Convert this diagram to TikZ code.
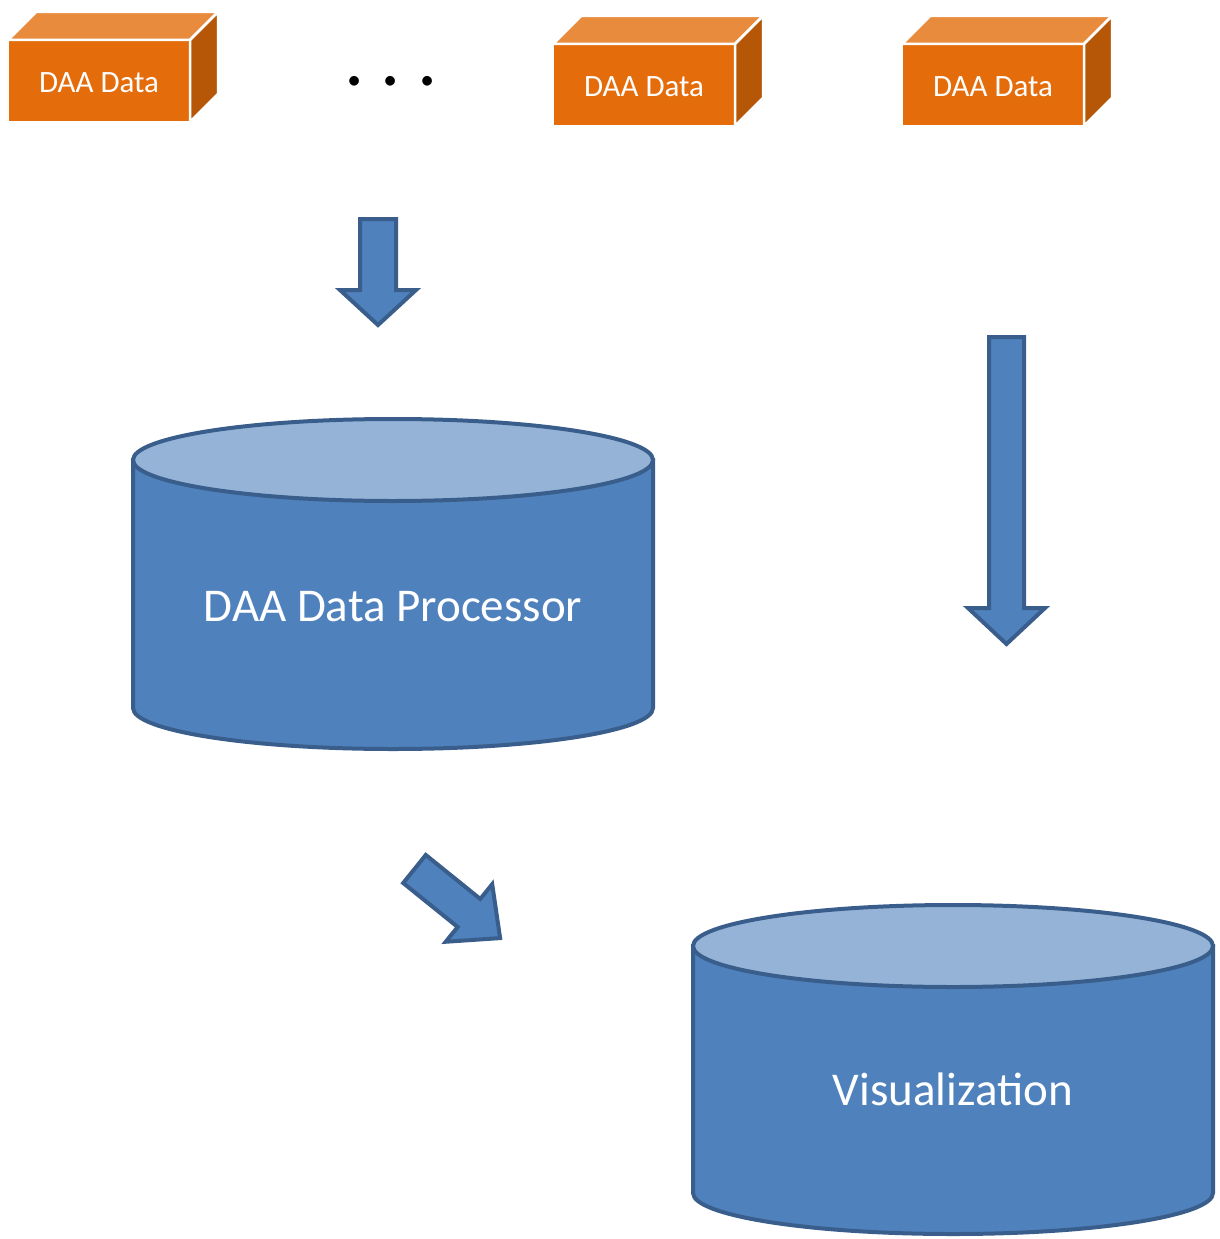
\documentclass[tikz,border=0pt]{standalone}
\usepackage{fontspec}
\setmainfont{Carlito}
\definecolor{orFront}{HTML}{E46C0A}
\definecolor{orTop}{HTML}{E98B3D}
\definecolor{orSide}{HTML}{B65708}
\definecolor{blBody}{HTML}{4F81BD}
\definecolor{blTop}{HTML}{95B3D7}
\definecolor{blLine}{HTML}{3A5E8C}
\tikzset{
  front/.style={fill=orFront, draw=white, line width=2.5pt, minimum width=182pt, minimum height=82pt,
    inner sep=0pt, outer sep=0pt, text=white, font=\fontsize{31}{37}\selectfont, anchor=north west,
    text height=23pt, text depth=0pt},
  topface/.style={fill=orTop, draw=white, line width=2.5pt, line join=round},
  sideface/.style={fill=orSide, draw=white, line width=2.5pt, line join=round},
  barrow/.style={fill=blBody, draw=blLine, line width=4pt, line join=miter},
  cylbody/.style={fill=blBody, draw=blLine, line width=4pt},
  cyltop/.style={fill=blTop, draw=blLine, line width=4pt},
  biglabel/.style={text=white, font=\fontsize{47}{56}\selectfont, inner sep=0pt},
  pics/blockarrow/.style n args={4}{code={
    \draw[barrow] (0,-#3) -- ({#1-#2},-#3) -- ({#1-#2},-#4) -- (#1,0) -- ({#1-#2},#4) -- ({#1-#2},#3) -- (0,#3) -- cycle;
  }}
}
\newcommand\orbox[3]{%
  \node[front] (#1) at (#2,#3) {DAA Data};
  \draw[topface] (#1.north west) -- ++(28,-28) -- ++(182,0) -- (#1.north east) -- cycle;
  \draw[sideface] (#1.north east) -- ++(28,-28) -- ++(0,82) -- (#1.south east) -- cycle;
}
\begin{document}
\begin{tikzpicture}[x=1pt,y=-1pt]
\useasboundingbox (0,0) rectangle (1220,1239);
% data boxes
\orbox{b1}{8}{40}
\orbox{b2}{553}{44}
\orbox{b3}{902}{44}
\node[font=\fontsize{80}{90}\selectfont, anchor=base, inner sep=0pt] (dots) at (391,85) {.\hspace{16pt}.\hspace{16pt}.};
% arrows
\pic[rotate=-90] (a1) at (378,219) {blockarrow={106}{35}{18}{38}};
\pic[rotate=-90] (a2) at (1006.5,337) {blockarrow={307}{36}{17.5}{38.5}};
\pic[rotate=-38.9] (a3) at (414.5,869) {blockarrow={110}{40}{18}{37}};
% cylinder 1
\draw[cylbody] (133,460) -- (133,708) arc[start angle=180, end angle=360, x radius=260pt, y radius=41pt] -- (653,460) -- cycle;
\draw[cyltop] (393,460) ellipse [x radius=260pt, y radius=41pt];
\node[biglabel] (proc) at (393,607) {DAA Data Processor};
% cylinder 2
\draw[cylbody] (693,946) -- (693,1193) arc[start angle=180, end angle=360, x radius=260pt, y radius=41pt] -- (1213,946) -- cycle;
\draw[cyltop] (953,946) ellipse [x radius=260pt, y radius=41pt];
\node[biglabel] (vis) at (953,1089) {Visualization};
\end{tikzpicture}
\end{document}
